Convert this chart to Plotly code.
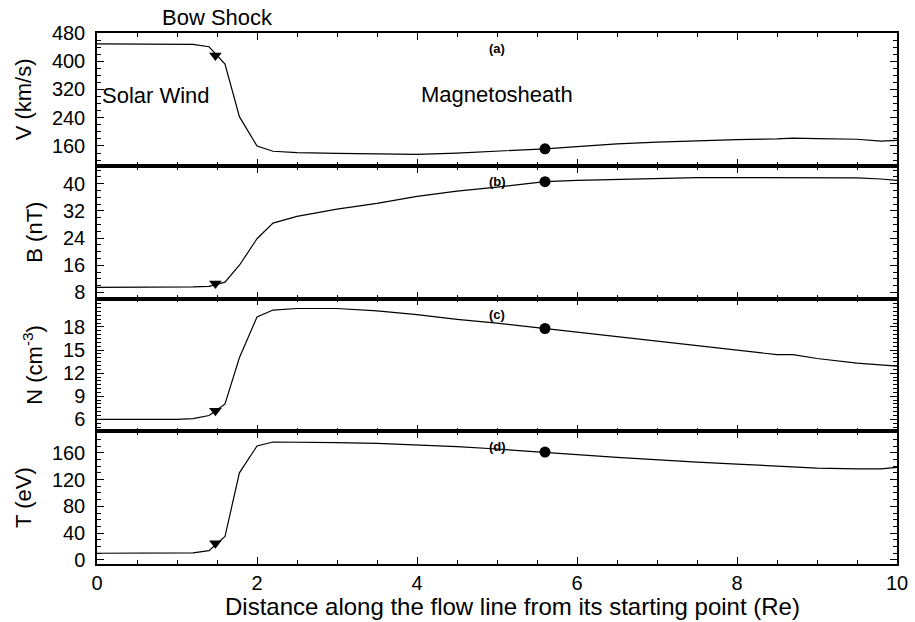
import plotly.graph_objects as go
from plotly.subplots import make_subplots

# ---- data ----
distance = [0, 0.5, 1.0, 1.2, 1.4, 1.5, 1.6, 1.78, 2.0, 2.2, 2.5, 3.0, 3.5, 4.0, 4.5, 5.0,
            5.6, 6.0, 6.5, 7.0, 7.5, 8.0, 8.5, 8.7, 9.0, 9.5, 9.8, 10.0]
velocity = [449, 449, 449, 448, 441, 415, 392, 243, 160, 145, 141, 139, 137, 136, 140, 145,
            152, 158, 166, 171, 175, 178, 180, 182, 181, 179, 174, 176]
field_b = [9.5, 9.5, 9.5, 9.6, 9.8, 10.5, 11.0, 16.0, 23.8, 28.4, 30.4, 32.5, 34.2, 36.3, 37.8, 39.0,
           40.6, 41.0, 41.3, 41.7, 41.8, 41.8, 41.8, 41.6, 41.8, 41.7, 41.4, 41.0]
density = [6.0, 6.0, 6.0, 6.1, 6.5, 7.2, 8.0, 14.0, 19.3, 20.2, 20.4, 20.4, 20.1, 19.6, 19.0, 18.5,
           17.8, 17.3, 16.7, 16.1, 15.6, 15.0, 14.4, 14.4, 13.9, 13.3, 13.1, 12.9]
temperature = [10, 10, 10, 10.5, 14, 25, 35, 130, 170, 176, 176, 175, 174, 172, 169, 165.5,
               161, 157, 153, 149, 146, 143, 140, 139, 137, 136, 136, 138]

shock_x = 1.48
shock_vals = [416, 10.6, 7.1, 25]
point_x = 5.6
point_vals = [152, 40.6, 17.8, 161]

series = [velocity, field_b, density, temperature]
y_titles = ["V (km/s)", "B (nT)", "N (cm<sup>-3</sup>)", "T (eV)"]
panel_labels = ["(a)", "(b)", "(c)", "(d)"]
y_ranges = [[104, 480], [6.2, 45.3], [4.45, 21.7], [-6, 192]]
y_tickvals = [[160, 240, 320, 400, 480], [8, 16, 24, 32, 40], [6, 9, 12, 15, 18], [0, 40, 80, 120, 160]]
y_minor = [20, 2, 0.5, 10]
x_tickvals = [0, 2, 4, 6, 8, 10]
x_title = "Distance along the flow line from its starting point (Re)"

FONT = "Liberation Sans, Arial, sans-serif"

fig = make_subplots(rows=4, cols=1, shared_xaxes=True, vertical_spacing=0)

for i, ys in enumerate(series):
    r = i + 1
    fig.add_trace(go.Scatter(x=distance, y=ys, mode="lines",
                             line=dict(color="black", width=1.2), showlegend=False), row=r, col=1)
    fig.add_trace(go.Scatter(x=[shock_x], y=[shock_vals[i]], mode="markers",
                             marker=dict(symbol="triangle-down", size=11, color="black"),
                             showlegend=False), row=r, col=1)
    fig.add_trace(go.Scatter(x=[point_x], y=[point_vals[i]], mode="markers",
                             marker=dict(symbol="circle", size=11, color="black"),
                             showlegend=False), row=r, col=1)
    fig.update_yaxes(row=r, col=1, range=y_ranges[i], tickmode="array", tickvals=y_tickvals[i],
                     ticks="inside", ticklen=7, tickwidth=1, tickcolor="black",
                     minor=dict(tickmode="linear", tick0=0, dtick=y_minor[i], ticks="inside",
                                ticklen=4, tickcolor="black"),
                     showline=True, linecolor="black", linewidth=1.5, mirror="ticks",
                     showgrid=False, zeroline=False, automargin=False,
                     ticklabelstandoff=6,
                     tickfont=dict(family=FONT, size=20, color="black"),
                     title=dict(text=y_titles[i], font=dict(family=FONT, size=22, color="black"),
                                standoff=14))
    fig.update_xaxes(row=r, col=1, range=[0, 10], tickmode="array", tickvals=x_tickvals,
                     ticks="inside", ticklen=7, tickwidth=1, tickcolor="black",
                     minor=dict(tickmode="linear", tick0=0, dtick=0.5, ticks="inside",
                                ticklen=4, tickcolor="black"),
                     showline=True, linecolor="black", linewidth=1.5, mirror="ticks",
                     showgrid=False, zeroline=False, automargin=False,
                     showticklabels=(r == 4),
                     tickfont=dict(family=FONT, size=20, color="black"))
    fig.add_annotation(x=5.0, y=1, xref="x", yref=f"y{'' if r == 1 else r} domain",
                       text=f"<b>{panel_labels[i]}</b>", showarrow=False, yanchor="top", yshift=-6,
                       font=dict(family=FONT, size=13, color="black"))

# x-axis title (slightly right of centre, as in the original)
fig.add_annotation(x=0.519, y=0, xref="paper", yref="paper", yanchor="top", yshift=-28,
                   borderpad=0, text=x_title, showarrow=False,
                   font=dict(family=FONT, size=24, color="black"))

fig.add_annotation(x=1.5, y=1, xref="x", yref="paper", yanchor="bottom", yshift=1,
                   text="Bow Shock", showarrow=False, font=dict(family=FONT, size=22, color="black"))
fig.add_annotation(x=0.04, y=302, xref="x", yref="y", xanchor="left",
                   text="Solar Wind", showarrow=False, font=dict(family=FONT, size=22, color="black"))
fig.add_annotation(x=5.0, y=305, xref="x", yref="y",
                   text="Magnetosheath", showarrow=False, font=dict(family=FONT, size=22, color="black"))

fig.update_layout(width=915, height=622, margin=dict(l=97, r=18, t=33, b=58),
                  paper_bgcolor="white", plot_bgcolor="white",
                  font=dict(family=FONT, color="black"))

fig.write_html("out.html", config={"displayModeBar": False},
               post_script="document.body.style.margin='0px';document.body.style.overflow='hidden';")
